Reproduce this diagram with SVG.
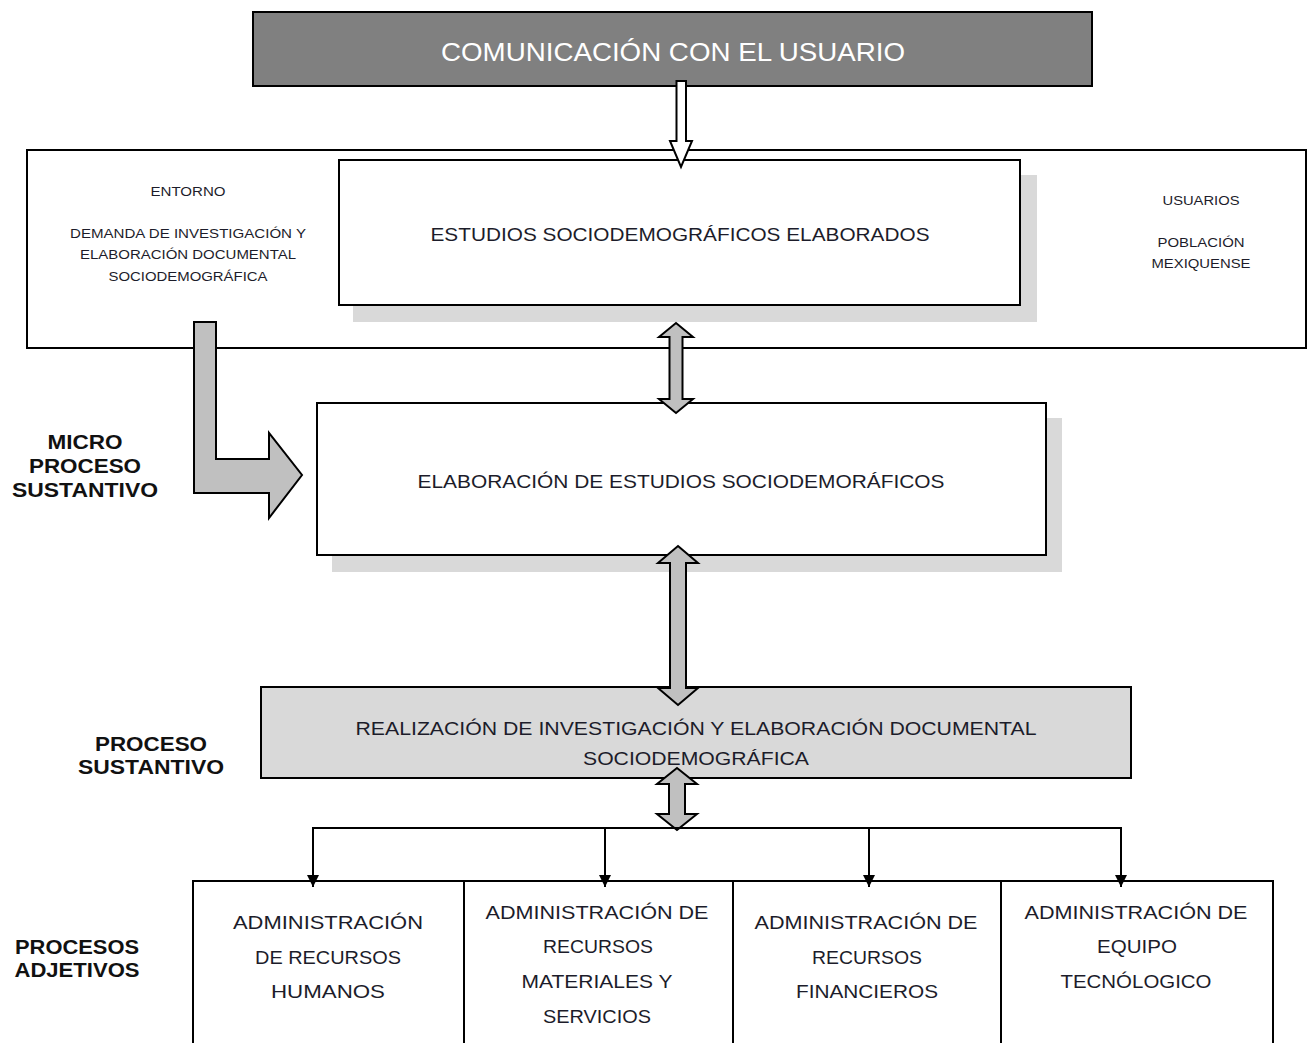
<svg xmlns="http://www.w3.org/2000/svg" width="1307" height="1043" viewBox="0 0 1307 1043">
<defs>
<style>
.box{fill:#fff;stroke:#000;stroke-width:2}
.shadow{fill:#d9d9d9;stroke:none}
.garrow{fill:#c0c0c0;stroke:#000;stroke-width:2;stroke-linejoin:miter}
.t{font-family:"Liberation Sans",Arial,sans-serif;fill:#1c1c2a;text-anchor:middle}
.lbl{font-family:"Liberation Sans",Arial,sans-serif;font-weight:bold;fill:#111;text-anchor:middle;font-size:20px}
.conn{fill:none;stroke:#000;stroke-width:2}
</style>
<marker id="tri" viewBox="0 0 10 10" refX="10" refY="5" markerWidth="12" markerHeight="12" markerUnits="userSpaceOnUse" orient="auto">
<path d="M0,0 L10,5 L0,10 Z" fill="#000"/>
</marker>
</defs>

<g id="comunicacion">
<rect x="253" y="12" width="839" height="74" fill="#808080" stroke="#000" stroke-width="2"/>
<text class="t" x="673" y="61" font-size="25" style="fill:#fff" textLength="464" lengthAdjust="spacingAndGlyphs">COMUNICACIÓN CON EL USUARIO</text>
</g>

<g id="entorno-usuarios">
<rect class="box" x="27" y="150" width="1279" height="198"/>
<text class="t" x="188" y="196" font-size="12.5" textLength="75" lengthAdjust="spacingAndGlyphs">ENTORNO</text>
<text class="t" x="188" y="238" font-size="12.5" textLength="236" lengthAdjust="spacingAndGlyphs">DEMANDA DE INVESTIGACIÓN Y</text>
<text class="t" x="188" y="259" font-size="12.5" textLength="216" lengthAdjust="spacingAndGlyphs">ELABORACIÓN DOCUMENTAL</text>
<text class="t" x="188" y="281" font-size="12.5" textLength="159" lengthAdjust="spacingAndGlyphs">SOCIODEMOGRÁFICA</text>
<text class="t" x="1201" y="205" font-size="12.5" textLength="77" lengthAdjust="spacingAndGlyphs">USUARIOS</text>
<text class="t" x="1201" y="247" font-size="12.5" textLength="87" lengthAdjust="spacingAndGlyphs">POBLACIÓN</text>
<text class="t" x="1201" y="268" font-size="12.5" textLength="99" lengthAdjust="spacingAndGlyphs">MEXIQUENSE</text>
</g>

<g id="estudios-elaborados">
<rect class="shadow" x="353" y="175" width="684" height="147"/>
<rect class="box" x="339" y="160" width="681" height="145"/>
<text class="t" x="680" y="241" font-size="19" textLength="499" lengthAdjust="spacingAndGlyphs">ESTUDIOS SOCIODEMOGRÁFICOS ELABORADOS</text>
</g>

<g id="elaboracion-estudios">
<rect class="shadow" x="332" y="418" width="730" height="154"/>
<rect class="box" x="317" y="403" width="729" height="152"/>
<text class="t" x="681" y="488" font-size="19" textLength="527" lengthAdjust="spacingAndGlyphs">ELABORACIÓN DE ESTUDIOS SOCIODEMORÁFICOS</text>
</g>

<g id="realizacion">
<rect x="261" y="687" width="870" height="91" fill="#d9d9d9" stroke="#000" stroke-width="2"/>
<text class="t" x="696" y="735" font-size="19" textLength="681" lengthAdjust="spacingAndGlyphs">REALIZACIÓN DE INVESTIGACIÓN Y ELABORACIÓN DOCUMENTAL</text>
<text class="t" x="696" y="765" font-size="19" textLength="226" lengthAdjust="spacingAndGlyphs">SOCIODEMOGRÁFICA</text>
</g>

<g id="procesos-adjetivos">
<rect class="box" x="193" y="881" width="1080" height="175"/>
<line x1="464" y1="881" x2="464" y2="1043" stroke="#000" stroke-width="2"/>
<line x1="733" y1="881" x2="733" y2="1043" stroke="#000" stroke-width="2"/>
<line x1="1001" y1="881" x2="1001" y2="1043" stroke="#000" stroke-width="2"/>
</g>

<g id="adm-rh">
<text class="t" x="328" y="929" font-size="19" textLength="190" lengthAdjust="spacingAndGlyphs">ADMINISTRACIÓN</text>
<text class="t" x="328" y="964" font-size="19" textLength="146" lengthAdjust="spacingAndGlyphs">DE RECURSOS</text>
<text class="t" x="328" y="998" font-size="19" textLength="114" lengthAdjust="spacingAndGlyphs">HUMANOS</text>
</g>
<g id="adm-rm">
<text class="t" x="597" y="919" font-size="19" textLength="223" lengthAdjust="spacingAndGlyphs">ADMINISTRACIÓN DE</text>
<text class="t" x="598" y="953" font-size="19" textLength="110" lengthAdjust="spacingAndGlyphs">RECURSOS</text>
<text class="t" x="597" y="988" font-size="19" textLength="151" lengthAdjust="spacingAndGlyphs">MATERIALES Y</text>
<text class="t" x="597" y="1023" font-size="19" textLength="108" lengthAdjust="spacingAndGlyphs">SERVICIOS</text>
</g>
<g id="adm-rf">
<text class="t" x="866" y="929" font-size="19" textLength="223" lengthAdjust="spacingAndGlyphs">ADMINISTRACIÓN DE</text>
<text class="t" x="867" y="964" font-size="19" textLength="110" lengthAdjust="spacingAndGlyphs">RECURSOS</text>
<text class="t" x="867" y="998" font-size="19" textLength="142" lengthAdjust="spacingAndGlyphs">FINANCIEROS</text>
</g>
<g id="adm-et">
<text class="t" x="1136" y="919" font-size="19" textLength="223" lengthAdjust="spacingAndGlyphs">ADMINISTRACIÓN DE</text>
<text class="t" x="1137" y="953" font-size="19" textLength="80" lengthAdjust="spacingAndGlyphs">EQUIPO</text>
<text class="t" x="1136" y="988" font-size="19" textLength="151" lengthAdjust="spacingAndGlyphs">TECNÓLOGICO</text>
</g>

<g id="labels">
<text class="lbl" x="85" y="449" textLength="75" lengthAdjust="spacingAndGlyphs">MICRO</text>
<text class="lbl" x="85" y="473" textLength="112" lengthAdjust="spacingAndGlyphs">PROCESO</text>
<text class="lbl" x="85" y="497" textLength="146" lengthAdjust="spacingAndGlyphs">SUSTANTIVO</text>
<text class="lbl" x="151" y="751" textLength="112" lengthAdjust="spacingAndGlyphs">PROCESO</text>
<text class="lbl" x="151" y="774" textLength="146" lengthAdjust="spacingAndGlyphs">SUSTANTIVO</text>
<text class="lbl" x="77" y="954" textLength="124" lengthAdjust="spacingAndGlyphs">PROCESOS</text>
<text class="lbl" x="77" y="977" textLength="125" lengthAdjust="spacingAndGlyphs">ADJETIVOS</text>
</g>

<g id="connectors">
<path d="M676.5,81 L686,81 L686,141 L692,141 L681,167 L670,141 L676.5,141 Z" fill="#fff" stroke="#000" stroke-width="2"/>
<path class="garrow" d="M194,322 L216,322 L216,459 L269,459 L269,433 L302,475 L269,518 L269,493 L194,493 Z"/>
<path class="garrow" d="M676,323 L693,337 L682.5,337 L682.5,399 L693,399 L676,413 L659,399 L669.5,399 L669.5,337 L659,337 Z"/>
<path class="garrow" d="M678,546 L698,563 L686,563 L686,688 L698,688 L678,705 L658,688 L670,688 L670,563 L658,563 Z"/>
<path class="garrow" d="M677,768 L697,784 L685,784 L685,814 L697,814 L677,830 L657,814 L669,814 L669,784 L657,784 Z"/>
<line class="conn" x1="312" y1="828" x2="1122" y2="828"/>
<line class="conn" x1="313" y1="828" x2="313" y2="887" marker-end="url(#tri)"/>
<line class="conn" x1="605" y1="828" x2="605" y2="887" marker-end="url(#tri)"/>
<line class="conn" x1="869" y1="828" x2="869" y2="887" marker-end="url(#tri)"/>
<line class="conn" x1="1121" y1="828" x2="1121" y2="887" marker-end="url(#tri)"/>
</g>
</svg>
